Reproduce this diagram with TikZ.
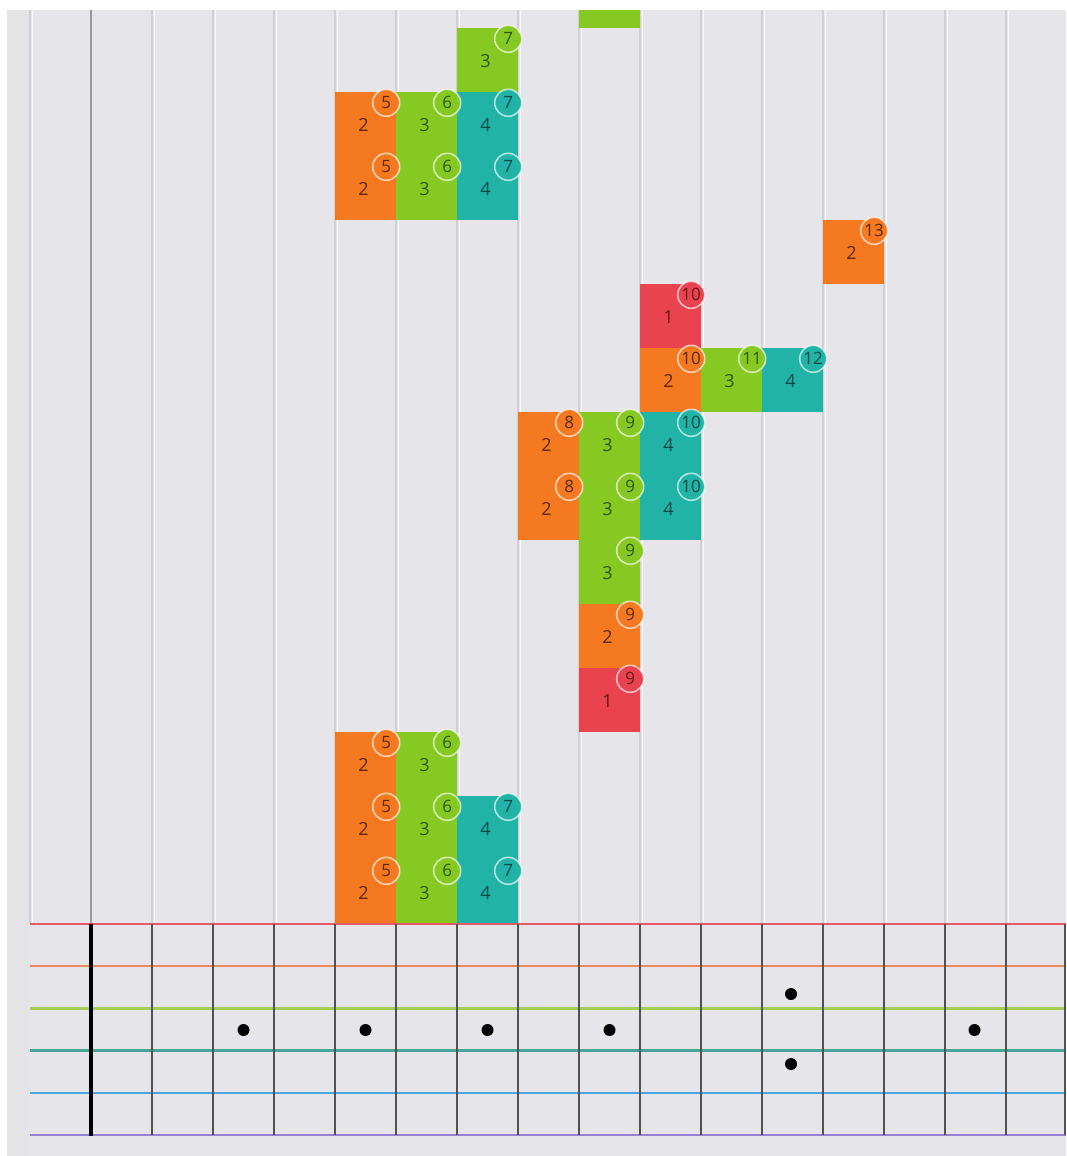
\documentclass[tikz,border=0pt]{standalone}
\usepackage{fontspec}
\setmainfont{Open Sans}
\definecolor{bg}{HTML}{E6E6EA}
\definecolor{bgleft}{HTML}{E4E4E6}
\definecolor{gridline}{HTML}{D0D0D6}
\definecolor{cell1}{HTML}{E8434E}
\definecolor{cell2}{HTML}{F47920}
\definecolor{cell3}{HTML}{86C923}
\definecolor{cell4}{HTML}{21B3A6}
\definecolor{txt1}{HTML}{6B1414}
\definecolor{txt2}{HTML}{5A2A0A}
\definecolor{txt3}{HTML}{2D5A0E}
\definecolor{txt4}{HTML}{0E4A45}
\definecolor{str1}{HTML}{E45A66}
\definecolor{str2}{HTML}{E88A5C}
\definecolor{str3}{HTML}{A6CC5A}
\definecolor{str4}{HTML}{48A696}
\definecolor{str5}{HTML}{46A8DE}
\definecolor{str6}{HTML}{9880D6}
\begin{document}
\begin{tikzpicture}[x=1pt,y=-1pt,
  cellbox/.style={rectangle, minimum width=61pt, minimum height=64pt, inner sep=0pt, draw=none},
  strnum/.style={inner sep=0pt, font=\fontsize{18}{21}\selectfont},
  fretcirc/.style={circle, minimum size=27pt, inner sep=0pt, draw=white, draw opacity=0.65, line width=1.6pt, font=\fontsize{17}{20}\selectfont},
  fdot/.style={circle, fill=black, minimum size=12pt, inner sep=0pt},
  stringline/.style={line width=2.4pt},
  fretline/.style={line width=1.6pt, color=black!68},
  upline/.style={line width=1.2pt, color=gridline}]
\useasboundingbox (0,0) rectangle (1066,1156);
\fill[white] (0,0) rectangle (1066,1156);
\fill[bg] (7,10) rectangle (1066,1156);
\fill[bgleft] (7,10) rectangle (30,1156);
% upper grid
\foreach \k in {0,2,3,...,16} {
  \draw[white, line width=1pt, opacity=0.8] ({30+61*\k+2.5},10) -- ({30+61*\k+2.5},924);
  \draw[upline] ({30+61*\k},10) -- ({30+61*\k},924);
}
\draw[line width=2pt, color=black!40] (91,10) -- (91,924);
% blocks
\foreach \f/\r/\s in {5/0/2,6/0/3,7/0/4,5/1/2,6/1/3,7/1/4,5/2/2,6/2/3,9/3/1,9/4/2,9/5/3,8/6/2,9/6/3,10/6/4,8/7/2,9/7/3,10/7/4,10/8/2,11/8/3,12/8/4,10/9/1,13/10/2,5/11/2,6/11/3,7/11/4,5/12/2,6/12/3,7/12/4,7/13/3} {
  \node[cellbox, fill=cell\s] (c\f-\r) at ({30+61*\f+30.5},{924-64*\r-32}) {};
}
\node[cellbox, fill=cell3, minimum height=18pt] (c9-14) at (609.5,19) {};
\foreach \f/\r/\s in {5/0/2,6/0/3,7/0/4,5/1/2,6/1/3,7/1/4,5/2/2,6/2/3,9/3/1,9/4/2,9/5/3,8/6/2,9/6/3,10/6/4,8/7/2,9/7/3,10/7/4,10/8/2,11/8/3,12/8/4,10/9/1,13/10/2,5/11/2,6/11/3,7/11/4,5/12/2,6/12/3,7/12/4,7/13/3} {
  \node[strnum, text=txt\s] (n\f-\r) at ([xshift=-2pt,yshift=-1pt]c\f-\r.center) {\s};
  \node[fretcirc, fill=cell\s, text=txt\s] (f\f-\r) at ([xshift=-10pt,yshift=-11pt]c\f-\r.north east) {\f};
}
% fretboard strings
\foreach \i/\y in {1/924,2/966.2,3/1008.4,4/1050.6,5/1092.8,6/1135} {
  \draw[stringline, color=str\i] (30,\y) -- (1066,\y);
}
% frets
\foreach \k in {2,3,...,16} {
  \draw[fretline] ({30+61*\k},924) -- ({30+61*\k},1135);
}
\draw[fretline] (1065,924) -- (1065,1135);
\draw[line width=4pt, black] (91,924) -- (91,1136);
% inlay dots
\node[fdot] (d3) at (243.5,1030) {};
\node[fdot] (d5) at (365.5,1030) {};
\node[fdot] (d7) at (487.5,1030) {};
\node[fdot] (d9) at (609.5,1030) {};
\node[fdot] (d12a) at (791,994) {};
\node[fdot] (d12b) at (791,1064) {};
\node[fdot] (d15) at (974.5,1030) {};
\end{tikzpicture}
\end{document}
